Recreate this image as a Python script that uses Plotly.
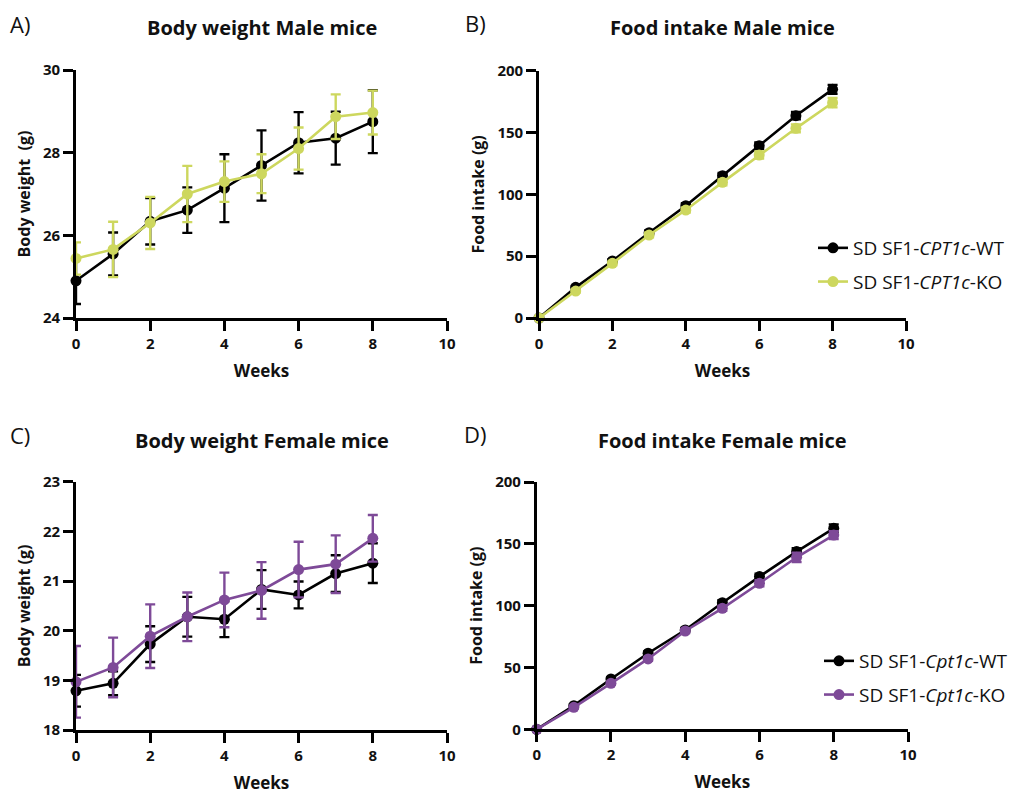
import plotly.graph_objects as go

# page body has an 8px margin; figure is drawn inside it
OFF = 8
W, H = 1018 - OFF, 797 - OFF

weeks = [0, 1, 2, 3, 4, 5, 6, 7, 8]

# A) Body weight male
bw_m_wt = [24.90, 25.55, 26.34, 26.61, 27.14, 27.69, 28.24, 28.35, 28.75]
bw_m_wt_err = [0.56, 0.52, 0.56, 0.55, 0.82, 0.85, 0.74, 0.64, 0.76]
bw_m_ko = [25.44, 25.66, 26.30, 27.00, 27.30, 27.49, 28.10, 28.87, 28.97]
bw_m_ko_err = [0.39, 0.67, 0.63, 0.68, 0.49, 0.47, 0.51, 0.54, 0.53]

# B) Food intake male
fi_m_wt = [0, 24.8, 46.1, 69.0, 90.8, 115.1, 139.4, 163.6, 184.9]
fi_m_wt_err = [0, 1.2, 1.5, 1.8, 2.0, 2.2, 2.5, 3.0, 3.6]
fi_m_ko = [0, 21.8, 44.2, 67.1, 87.3, 109.7, 131.8, 153.4, 174.1]
fi_m_ko_err = [0, 1.2, 1.5, 1.8, 2.0, 2.4, 2.8, 3.2, 3.8]

# C) Body weight female
bw_f_wt = [18.79, 18.94, 19.73, 20.28, 20.23, 20.83, 20.72, 21.15, 21.36]
bw_f_wt_err = [0.32, 0.24, 0.36, 0.40, 0.36, 0.39, 0.27, 0.37, 0.40]
bw_f_ko = [18.97, 19.26, 19.89, 20.28, 20.62, 20.81, 21.23, 21.34, 21.86]
bw_f_ko_err = [0.72, 0.60, 0.64, 0.49, 0.55, 0.57, 0.56, 0.58, 0.47]

# D) Food intake female
fi_f_wt = [0, 19.1, 40.7, 61.5, 80.3, 102.4, 123.5, 143.7, 162.5]
fi_f_wt_err = [0, 1.0, 1.3, 1.5, 1.7, 2.0, 2.3, 2.7, 3.2]
fi_f_ko = [0, 17.8, 37.2, 56.9, 79.5, 97.8, 118.1, 139.1, 157.1]
fi_f_ko_err = [0, 1.0, 1.3, 1.5, 1.7, 2.0, 2.5, 3.8, 3.2]

x_ticks = [0, 2, 4, 6, 8, 10]

BLACK = "#000000"
GREEN = "#CDD75E"
PURPLE = "#7E4A98"
FONT = "Open Sans"

fig = go.Figure()


def add(xref, yref, y, err, color, name, legend, show):
    fig.add_trace(go.Scatter(
        x=weeks, y=y, mode="lines+markers", name=name,
        xaxis=xref, yaxis=yref, cliponaxis=False,
        line=dict(color=color, width=2.6),
        marker=dict(color=color, size=11, symbol="circle"),
        error_y=dict(type="data", array=err, visible=True, color=color,
                     thickness=2.4, width=5),
        showlegend=show, legend=legend, legendgroup=name,
    ))


add("x", "y", bw_m_wt, bw_m_wt_err, BLACK, "wt_m_a", "legend", False)
add("x", "y", bw_m_ko, bw_m_ko_err, GREEN, "ko_m_a", "legend", False)
add("x2", "y2", fi_m_wt, fi_m_wt_err, BLACK, "SD SF1-<i>CPT1c</i>-WT", "legend", True)
add("x2", "y2", fi_m_ko, fi_m_ko_err, GREEN, "SD SF1-<i>CPT1c</i>-KO", "legend", True)
add("x3", "y3", bw_f_wt, bw_f_wt_err, BLACK, "wt_f_c", "legend2", False)
add("x3", "y3", bw_f_ko, bw_f_ko_err, PURPLE, "ko_f_c", "legend2", False)
add("x4", "y4", fi_f_wt, fi_f_wt_err, BLACK, "SD SF1-<i>Cpt1c</i>-WT", "legend2", True)
add("x4", "y4", fi_f_ko, fi_f_ko_err, PURPLE, "SD SF1-<i>Cpt1c</i>-KO", "legend2", True)


def px_x(p):
    return (p - OFF) / W


def px_y(p):
    return 1 - (p - OFF) / H


tickfont = dict(family=FONT, size=15, color="#111", weight="bold")
xtitlefont = dict(family=FONT, size=17, color="#111", weight="bold")
ytitlefont = dict(family=FONT, size=16, color="#111", weight="bold")


def xaxis(domain, anchor):
    return dict(domain=domain, anchor=anchor, range=[0, 10], tickvals=x_ticks,
                automargin=False,
                showline=True, linecolor="black", linewidth=2.6,
                ticks="outside", ticklen=10, tickwidth=2.6, tickcolor="black",
                showgrid=False, zeroline=False, tickfont=tickfont,
                title=dict(text="Weeks", font=xtitlefont, standoff=14))


def yaxis(domain, anchor, rng, dtick, title, standoff):
    return dict(domain=domain, anchor=anchor, range=rng, dtick=dtick, tick0=rng[0],
                automargin=False,
                showline=True, linecolor="black", linewidth=2.6,
                ticks="outside", ticklen=10, tickwidth=2.6, tickcolor="black",
                showgrid=False, zeroline=False, tickfont=tickfont,
                title=dict(text=title, font=ytitlefont, standoff=standoff))


xa = [px_x(76), px_x(447)]
xb = [px_x(539), px_x(906)]
xc = [px_x(76), px_x(447)]
xd = [px_x(536.7), px_x(908)]
ya = [px_y(318), px_y(70)]
yb = [px_y(318), px_y(70.7)]
yc = [px_y(730), px_y(481.7)]
yd = [px_y(729.3), px_y(482)]

fig.update_layout(
    width=W, height=H,
    margin=dict(l=0, r=0, t=0, b=0, autoexpand=False),
    paper_bgcolor="white", plot_bgcolor="white",
    font=dict(family=FONT, color="#111"),
    xaxis=xaxis(xa, "y"), yaxis=yaxis(ya, "x", [24, 30], 2, "Body weight  (g)", 9),
    xaxis2=xaxis(xb, "y2"), yaxis2=yaxis(yb, "x2", [0, 200], 50, "Food intake (g)", 9),
    xaxis3=xaxis(xc, "y3"), yaxis3=yaxis(yc, "x3", [18, 23], 1, "Body weight (g)", 9),
    xaxis4=xaxis(xd, "y4"), yaxis4=yaxis(yd, "x4", [0, 200], 50, "Food intake (g)", 9),
    legend=dict(x=px_x(813), y=px_y(229), xanchor="left", yanchor="top",
                font=dict(family=FONT, size=19, color="#111"),
                tracegroupgap=6, bgcolor="rgba(0,0,0,0)"),
    legend2=dict(x=px_x(819), y=px_y(642), xanchor="left", yanchor="top",
                 font=dict(family=FONT, size=19, color="#111"),
                 tracegroupgap=6, bgcolor="rgba(0,0,0,0)"),
)

annotations = [
    ("A)", 20, 24, 22, "normal"),
    ("B)", 475, 23, 22, "normal"),
    ("C)", 20, 435, 22, "normal"),
    ("D)", 475, 434, 22, "normal"),
    ("Body weight Male mice", 262, 28, 20, "bold"),
    ("Food intake Male mice", 722, 28, 20, "bold"),
    ("Body weight Female mice", 262, 440, 20, "bold"),
    ("Food intake Female mice", 722, 440, 20, "bold"),
]
for text, x, y, size, weight in annotations:
    fig.add_annotation(text=text, x=px_x(x), y=px_y(y), xref="paper", yref="paper",
                       xanchor="center", yanchor="middle", showarrow=False,
                       font=dict(family=FONT, size=size, color="#111", weight=weight))

fig.write_html("out.html")
